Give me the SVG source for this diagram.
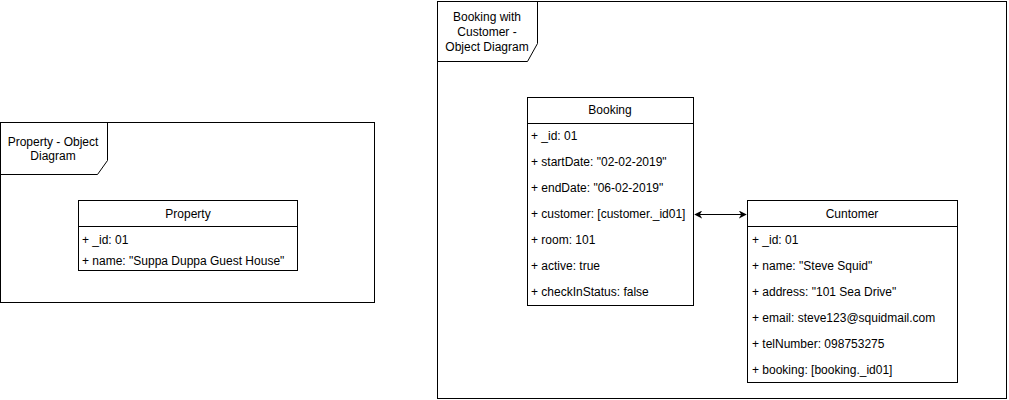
<svg xmlns="http://www.w3.org/2000/svg" width="1009" height="400" viewBox="0 0 1009 400">
<style>
text{font-family:"Liberation Sans",Arial,Helvetica,sans-serif;font-size:12px;fill:#000}
.c{text-anchor:middle}
.b{fill:#fff;stroke:#000;stroke-width:1}
.l{fill:none;stroke:#000;stroke-width:1}
</style>
<defs>
<marker id="ah" viewBox="0 0 10 10" refX="9" refY="5" markerWidth="8" markerHeight="8" orient="auto-start-reverse" markerUnits="userSpaceOnUse">
<path d="M0,0 L10,5 L0,10 L3,5 Z" fill="#000"/>
</marker>
</defs>
<rect width="1009" height="400" fill="#fff"/>
<g id="frame-property">
<rect class="b" x="0.5" y="122.5" width="374" height="180"/>
<path class="l" d="M0.5,174.5 H97.5 L107.5,160.5 V122.5"/>
<text class="c" x="53" y="146">Property - Object</text>
<text class="c" x="53" y="160">Diagram</text>
</g>
<g id="frame-booking">
<rect class="b" x="437.5" y="1.5" width="569" height="397"/>
<path class="l" d="M437.5,61.5 H527.5 L537.5,43.5 V1.5"/>
<text class="c" x="487" y="21">Booking with</text>
<text class="c" x="487" y="36">Customer -</text>
<text class="c" x="487" y="51">Object Diagram</text>
</g>
<g id="node-property">
<rect class="b" x="78.5" y="200.5" width="219" height="70"/>
<line class="l" x1="78.5" y1="226.5" x2="297.5" y2="226.5"/>
<text class="c" x="188" y="218">Property</text>
<text x="82" y="244">+ _id: 01</text>
<text x="82" y="265">+ name: "Suppa Duppa Guest House"</text>
</g>
<g id="node-booking">
<rect class="b" x="527.5" y="97.5" width="166" height="208"/>
<line class="l" x1="527.5" y1="123.5" x2="693.5" y2="123.5"/>
<text class="c" x="610" y="114">Booking</text>
<text x="531" y="140">+ _id: 01</text>
<text x="531" y="166">+ startDate: "02-02-2019"</text>
<text x="531" y="192">+ endDate: "06-02-2019"</text>
<text x="531" y="218">+ customer: [customer._id01]</text>
<text x="531" y="244">+ room: 101</text>
<text x="531" y="270">+ active: true</text>
<text x="531" y="296">+ checkInStatus: false</text>
</g>
<g id="node-customer">
<rect class="b" x="747.5" y="200.5" width="210" height="182"/>
<line class="l" x1="747.5" y1="226.5" x2="957.5" y2="226.5"/>
<text class="c" x="852" y="218">Cuntomer</text>
<text x="752" y="244">+ _id: 01</text>
<text x="752" y="270">+ name: "Steve Squid"</text>
<text x="752" y="296">+ address: "101 Sea Drive"</text>
<text x="752" y="322">+ email: steve123@squidmail.com</text>
<text x="752" y="348">+ telNumber: 098753275</text>
<text x="752" y="374">+ booking: [booking._id01]</text>
</g>
<g id="connectors">
<line class="l" x1="695" y1="214.5" x2="746" y2="214.5" marker-start="url(#ah)" marker-end="url(#ah)"/>
</g>
</svg>
